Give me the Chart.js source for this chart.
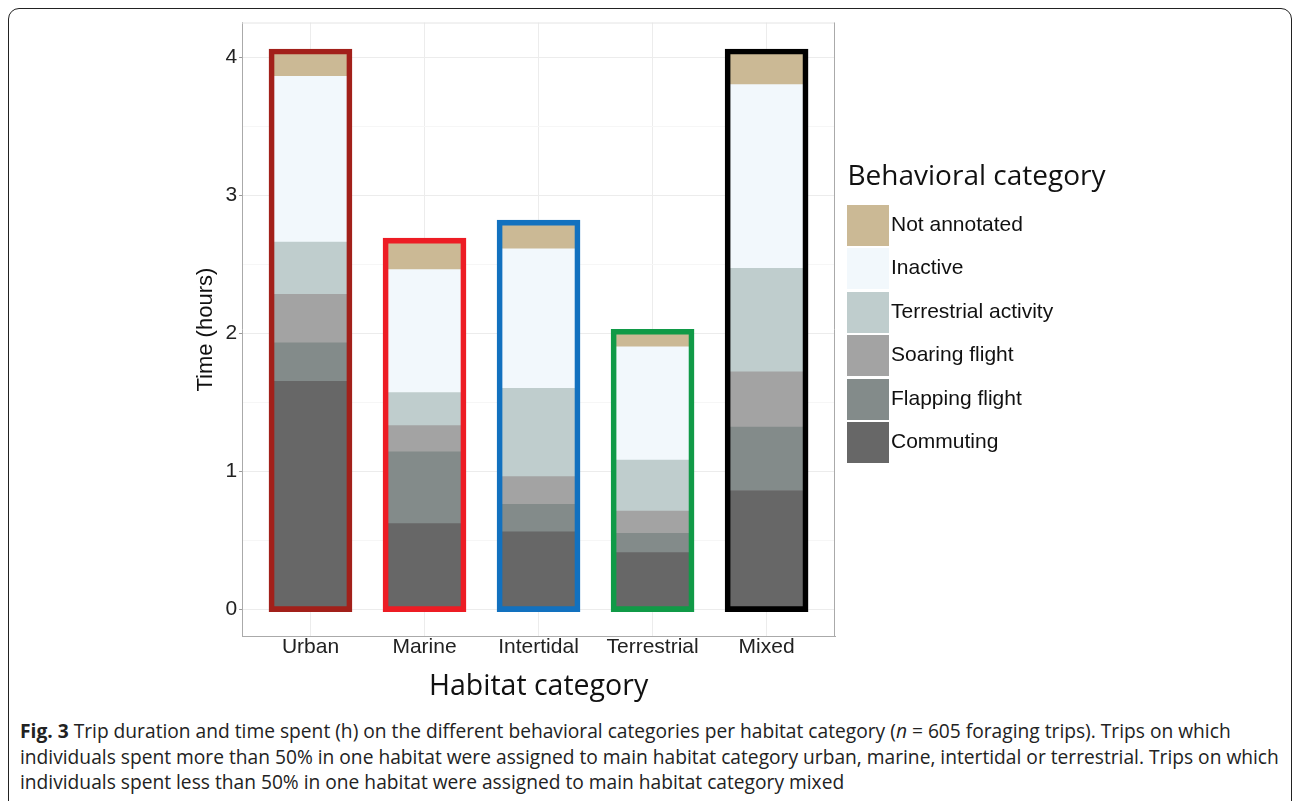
<!DOCTYPE html>
<html>
<head>
<meta charset="utf-8">
<script src="https://cdn.jsdelivr.net/npm/chart.js@4.4.1/dist/chart.umd.min.js"></script>
<style>
  html, body { margin: 0; padding: 0; background: #fff; }
  body { width: 1295px; height: 801px; position: relative; overflow: hidden; }
  .frame { position: absolute; left: 8px; top: 8px; width: 1284px; height: 810px; border: 1.5px solid #222; border-radius: 11px; box-sizing: border-box; }
  .chart { position: absolute; left: 10px; top: 10px; width: 1270px; height: 700px; }
  .caption { position: absolute; left: 20px; top: 718px; font-family: "Open Sans", sans-serif; font-size: 19.2px; line-height: 25.5px; color: #222; white-space: nowrap; }
</style>
</head>
<body>
<div class="frame"></div>
<div class="chart"><canvas id="habitatChart"></canvas></div>
<div class="caption">
  <b>Fig. 3</b> Trip duration and time spent (h) on the different behavioral categories per habitat category (<i>n</i> = 605 foraging trips). Trips on which<br>
  individuals spent more than 50% in one habitat were assigned to main habitat category urban, marine, intertidal or terrestrial. Trips on which<br>
  individuals spent less than 50% in one habitat were assigned to main habitat category mixed
</div>
<script>
// hours per behaviour, one value per habitat
const habitats = ['Urban', 'Marine', 'Intertidal', 'Terrestrial', 'Mixed'];
const commuting = [1.65, 0.62, 0.56, 0.41, 0.86];
const flapping = [0.28, 0.52, 0.20, 0.14, 0.46];
const soaring = [0.35, 0.19, 0.20, 0.16, 0.40];
const terrestrialActivity = [0.38, 0.24, 0.64, 0.37, 0.75];
const inactive = [1.20, 0.89, 1.01, 0.82, 1.33];
const notAnnotated = [0.18, 0.21, 0.19, 0.11, 0.24];
const yTicks = [0, 1, 2, 3, 4];

const habitatColors = ['#a2201a', '#ed1c24', '#1271bf', '#109a47', '#000000'];
const behaviours = [
  { label: 'Commuting', data: commuting, color: '#676767' },
  { label: 'Flapping flight', data: flapping, color: '#838b8a' },
  { label: 'Soaring flight', data: soaring, color: '#a3a3a3' },
  { label: 'Terrestrial activity', data: terrestrialActivity, color: '#bfcdcd' },
  { label: 'Inactive', data: inactive, color: '#f2f8fc' },
  { label: 'Not annotated', data: notAnnotated, color: '#cbb995' }
];

const totals = habitats.map((h, i) => behaviours.reduce((s, b) => s + b.data[i], 0));
const pad = 0.018; // centre the outline on the bar edge

// minor grid halfway between the labelled ticks
const yGrid = [];
yTicks.forEach((t, i) => {
  yGrid.push(t);
  if (i < yTicks.length - 1) yGrid.push((t + yTicks[i + 1]) / 2);
});

const tickFont = { family: 'Liberation Sans', size: 21, lineHeight: 1 };

// big square legend keys
function swatch(color) {
  const c = document.createElement('canvas');
  c.width = 42;
  c.height = 41;
  const g = c.getContext('2d');
  g.fillStyle = color;
  g.fillRect(0, 0, 42, 41);
  return c;
}

const datasets = [{
  label: 'outline',
  stack: 'outline',
  grouped: false,
  data: habitats.map((h, i) => ({ x: i, y: [-pad, totals[i] + pad] })),
  backgroundColor: 'rgba(0,0,0,0)',
  borderColor: habitatColors,
  borderWidth: 5,
  borderSkipped: false,
  barThickness: 83
}].concat(behaviours.map(b => ({
  label: b.label,
  stack: 'time',
  data: b.data.map((v, i) => ({ x: i, y: v })),
  backgroundColor: b.color,
  borderColor: b.color,
  borderWidth: 0,
  barThickness: 80
})));

const panelBorder = {
  id: 'panelBorder',
  beforeDatasetsDraw(chart) {
    const a = chart.chartArea, ctx = chart.ctx;
    ctx.save();
    ctx.lineWidth = 1;
    ctx.strokeStyle = '#e4e4e4';
    ctx.beginPath();
    ctx.moveTo(a.left, a.top + 0.5);
    ctx.lineTo(a.right, a.top + 0.5);
    ctx.stroke();
    ctx.strokeStyle = '#aaa';
    ctx.beginPath();
    ctx.moveTo(a.right - 0.5, a.top);
    ctx.lineTo(a.right - 0.5, a.bottom);
    ctx.stroke();
    ctx.restore();
  }
};

// legend: wide enough for its title, sitting beside the upper part of the panel
const legendWidth = 287;
const legendPlacement = {
  id: 'legendPlacement',
  beforeLayout(chart) {
    const lg = chart.legend;
    if (lg && !lg._wide) {
      const fit = lg.fit.bind(lg);
      lg.fit = () => { fit(); lg.width = legendWidth; };
      lg._wide = true;
    }
  },
  afterLayout(chart) {
    const lg = chart.legend;
    const h = lg.bottom - lg.top;
    lg.top = chart.chartArea.top + 141;
    lg.bottom = lg.top + h;
    lg.left = chart.chartArea.right - 2;
    lg.right = lg.left + legendWidth;
  }
};

new Chart(document.getElementById('habitatChart'), {
  type: 'bar',
  data: { datasets },
  plugins: [panelBorder, legendPlacement],
  options: {
    responsive: true,
    maintainAspectRatio: false,
    animation: false,
    layout: { padding: { left: 179, top: 12, right: 158, bottom: 6 } },
    plugins: {
      tooltip: { enabled: false },
      legend: {
        position: 'right',
        reverse: true,
        align: 'start',
        title: {
          display: true,
          text: 'Behavioral category',
          position: 'center',
          color: '#111',
          font: { family: 'Open Sans', size: 28, lineHeight: 1 },
          padding: { top: 0, bottom: 0.5 }
        },
        labels: {
          usePointStyle: true,
          pointStyleWidth: 25,
          padding: 22.5,
          color: '#111',
          font: { family: 'Liberation Sans', size: 21 },
          filter: item => item.datasetIndex !== 0,
          generateLabels: chart => Chart.defaults.plugins.legend.labels.generateLabels(chart)
            .map(item => Object.assign(item, { pointStyle: swatch(item.fillStyle) }))
        }
      }
    },
    scales: {
      x: {
        type: 'linear',
        min: -0.6,
        max: 4.6,
        offset: false,
        stacked: true,
        afterBuildTicks: s => { s.ticks = habitats.map((h, i) => ({ value: i })); },
        ticks: { callback: v => habitats[v], font: tickFont, color: '#222', padding: 0, maxRotation: 0, autoSkip: false },
        grid: { offset: false, color: '#ececec', drawTicks: false },
        border: { color: '#aaa' },
        title: { display: true, text: 'Habitat category', color: '#111', font: { family: 'Open Sans', size: 28.5 }, padding: { top: 12, bottom: 0 } }
      },
      y: {
        stacked: true,
        min: -0.2,
        max: 4.25,
        afterBuildTicks: s => { s.ticks = yGrid.map(v => ({ value: v })); },
        ticks: { callback: v => (yTicks.includes(v) ? v : ''), font: tickFont, color: '#222', padding: 2 },
        grid: {
          color: c => (yTicks.includes(c.tick.value) ? '#ececec' : '#f6f6f6'),
          tickColor: c => (yTicks.includes(c.tick.value) ? '#999' : 'rgba(0,0,0,0)'),
          tickLength: 3
        },
        border: { color: '#aaa' },
        title: { display: true, text: 'Time (hours)', color: '#111', font: { family: 'Liberation Sans', size: 22 }, padding: { top: 4, bottom: 4 } }
      }
    }
  }
});
</script>
</body>
</html>
